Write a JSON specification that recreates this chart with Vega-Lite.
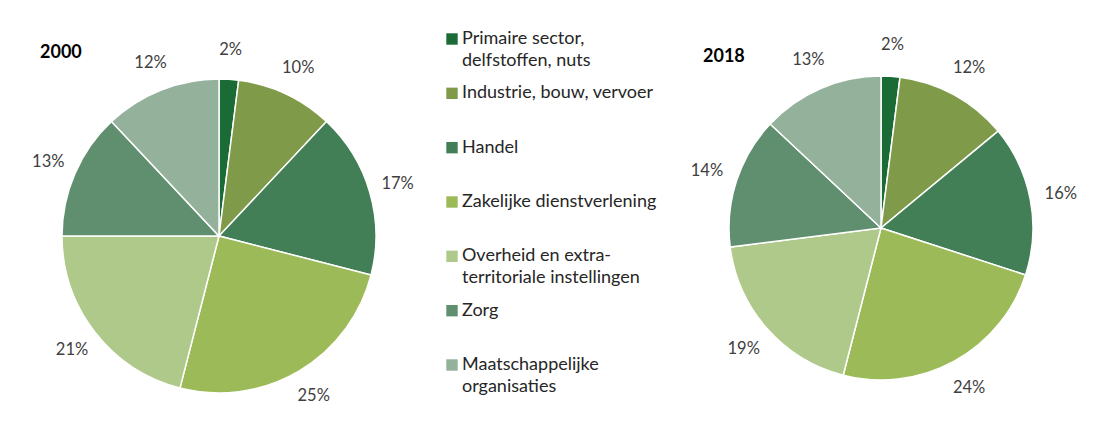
{
  "$schema": "https://vega.github.io/schema/vega-lite/v6.json",
  "padding": {"top": 30, "left": 0, "right": 0, "bottom": 0},
  "background": "white",
  "config": {"view": {"stroke": null}, "font": "Lato"},
  "datasets": {
    "shares": [
      {"year": "2000", "n": 1, "sector": "Primaire sector, delfstoffen, nuts", "label": "Primaire sector,\ndelfstoffen, nuts", "share": 0.02},
      {"year": "2000", "n": 2, "sector": "Industrie, bouw, vervoer", "label": "Industrie, bouw, vervoer", "share": 0.10},
      {"year": "2000", "n": 3, "sector": "Handel", "label": "Handel", "share": 0.17},
      {"year": "2000", "n": 4, "sector": "Zakelijke dienstverlening", "label": "Zakelijke dienstverlening", "share": 0.25},
      {"year": "2000", "n": 5, "sector": "Overheid en extra-territoriale instellingen", "label": "Overheid en extra-\nterritoriale instellingen", "share": 0.21},
      {"year": "2000", "n": 6, "sector": "Zorg", "label": "Zorg", "share": 0.13},
      {"year": "2000", "n": 7, "sector": "Maatschappelijke organisaties", "label": "Maatschappelijke\norganisaties", "share": 0.12},
      {"year": "2018", "n": 1, "sector": "Primaire sector, delfstoffen, nuts", "label": "Primaire sector,\ndelfstoffen, nuts", "share": 0.02},
      {"year": "2018", "n": 2, "sector": "Industrie, bouw, vervoer", "label": "Industrie, bouw, vervoer", "share": 0.12},
      {"year": "2018", "n": 3, "sector": "Handel", "label": "Handel", "share": 0.16},
      {"year": "2018", "n": 4, "sector": "Zakelijke dienstverlening", "label": "Zakelijke dienstverlening", "share": 0.24},
      {"year": "2018", "n": 5, "sector": "Overheid en extra-territoriale instellingen", "label": "Overheid en extra-\nterritoriale instellingen", "share": 0.19},
      {"year": "2018", "n": 6, "sector": "Zorg", "label": "Zorg", "share": 0.14},
      {"year": "2018", "n": 7, "sector": "Maatschappelijke organisaties", "label": "Maatschappelijke\norganisaties", "share": 0.13}
    ]
  },
  "bounds": "flush",
  "spacing": 14,
  "hconcat": [
    {
      "width": 438,
      "height": 346,
      "data": {"name": "shares"},
      "title": {"text": "2000", "anchor": "start", "frame": "group", "dx": 40, "fontSize": 18, "fontWeight": "bold", "color": "#000000", "font": "Lato", "offset": -20},
      "transform": [{"filter": "datum.year == '2000'"}],
      "encoding": {
        "theta": {"field": "share", "type": "quantitative", "stack": true},
        "order": {"field": "n", "type": "quantitative"}
      },
      "layer": [
        {
          "mark": {"type": "arc", "radius": 157, "stroke": "white", "strokeWidth": 1.5},
          "encoding": {
            "color": {
              "field": "sector", "type": "nominal", "legend": null,
              "scale": {
                "domain": ["Primaire sector, delfstoffen, nuts", "Industrie, bouw, vervoer", "Handel", "Zakelijke dienstverlening", "Overheid en extra-territoriale instellingen", "Zorg", "Maatschappelijke organisaties"],
                "range": ["#1a6b35", "#7f9b4a", "#437f56", "#9cbb58", "#afc98b", "#5f8f6f", "#93b19b"]
              }
            }
          }
        },
        {
          "mark": {"type": "text", "radius": 186, "fontSize": 16.5, "color": "#404040", "font": "Lato"},
          "encoding": {"text": {"field": "share", "type": "quantitative", "format": ".0%"}}
        }
      ]
    },
    {
      "width": 225,
      "height": 326,
      "data": {"name": "shares"},
      "transform": [{"filter": "datum.year == '2000'"}],
      "encoding": {
        "x": {"datum": 0, "type": "quantitative", "scale": {"domain": [0, 1]}, "axis": null},
        "y": {"field": "label", "type": "nominal", "sort": {"field": "n"}, "scale": {"type": "point", "padding": 0}, "axis": null}
      },
      "layer": [
        {
          "mark": {"type": "point", "shape": "square", "filled": true, "size": 130, "opacity": 1, "yOffset": -24},
          "encoding": {
            "color": {"field": "sector", "type": "nominal", "legend": null}
          }
        },
        {
          "mark": {"type": "text", "align": "left", "baseline": "alphabetic", "dx": 10, "yOffset": -19, "fontSize": 18, "lineHeight": 22, "lineBreak": "\n", "color": "#262626", "font": "Lato"},
          "encoding": {"text": {"field": "label"}}
        }
      ]
    },
    {
      "width": 380,
      "height": 330,
      "data": {"name": "shares"},
      "title": {"text": "2018", "anchor": "start", "frame": "group", "dx": 12, "fontSize": 18, "fontWeight": "bold", "color": "#000000", "font": "Lato", "offset": -29},
      "transform": [{"filter": "datum.year == '2018'"}],
      "encoding": {
        "theta": {"field": "share", "type": "quantitative", "stack": true},
        "order": {"field": "n", "type": "quantitative"}
      },
      "layer": [
        {
          "mark": {"type": "arc", "radius": 152, "stroke": "white", "strokeWidth": 1.5},
          "encoding": {"color": {"field": "sector", "type": "nominal", "legend": null}}
        },
        {
          "mark": {"type": "text", "radius": 183, "fontSize": 16.5, "color": "#404040", "font": "Lato"},
          "encoding": {"text": {"field": "share", "type": "quantitative", "format": ".0%"}}
        }
      ]
    }
  ]
}
